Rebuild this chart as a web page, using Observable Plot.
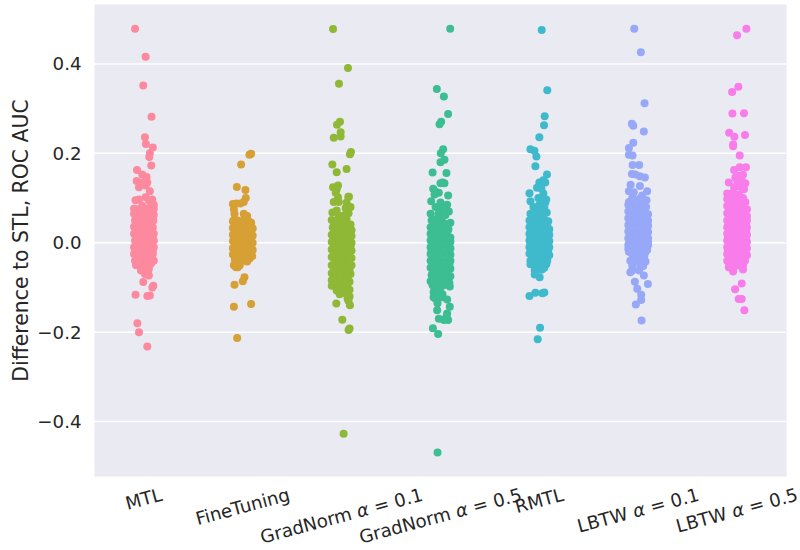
<!DOCTYPE html>
<html><head><meta charset="utf-8">
<style>html,body{margin:0;padding:0;background:#fff}svg{display:block}</style>
<script src="https://cdn.jsdelivr.net/npm/d3@7"></script>
<script src="https://cdn.jsdelivr.net/npm/@observablehq/plot@0.6"></script>
</head><body><div id="chart"></div>
<script>
const categories = ["MTL","FineTuning","GradNorm α = 0.1","GradNorm α = 0.5","RMTL","LBTW α = 0.1","LBTW α = 0.5"];
const colors = ["#fd899e","#d6a035","#8eb836","#3cbd92","#3fbacc","#96a8f7","#f97ceb"];
const yTicks = [-0.4,-0.2,0,0.2,0.4];
const jitterLimit = 0.1;

// each point: [horizontal jitter in category widths, difference]
const mtl = [[-.09,.479],[.017,.416],[-.007,.352],[.077,.282],[.01,.236],[.02,.221],[.09,.213],[.06,.2],[.054,.192],[.074,.173],[-.07,.163],
[-.017,.153],[.027,.147],[-.074,.138],[-.017,.135],[.034,.135],[-.05,.124],[.017,.128],[.06,.115],[-.085,.095],[-.05,.097],[.084,.097],[.017,.102],[.05,.095],[-.1,.076],[.1,.076],[-.017,.083],[.05,.078],[.1,.085],
[-.1,.065],[-.03,.066],[.04,.064],[.1,.062],[-.09,.05],[-.06,.052],[0,.05],[.06,.049],[.095,.05],[-.11,.036],[-.04,.035],[.03,.037],[.09,.034],[-.1,.02],[-.06,.021],[.01,.02],[.05,.019],[.11,.02],[-.09,.005],[-.02,.006],[.04,.004],[.1,.005],[-.11,-.01],[-.05,-.01],[.02,-.009],[.07,-.011],[.11,-.01],[-.1,-.025],[-.03,-.024],[.03,-.026],[.09,-.025],[-.09,-.04],[-.05,-.04],[.01,-.039],[.06,-.041],[.1,-.04],[-.08,-.05],[-.02,-.052],[.04,-.05],[-.03,-.062],[.03,-.061],[.05,-.058],
[.05,-.073],[-.007,-.088],[.095,-.096],[.085,-.1],[-.085,-.116],[.035,-.119],[.06,-.118],[-.067,-.18],[-.05,-.2],[.034,-.232],
[-.06,.075],[-.02,.072],[.03,.074],[.07,.07],[-.075,.058],[-.025,.057],[.025,.058],[.075,.056],[-.075,.043],[-.025,.042],[.025,.044],[.07,.042],[-.075,.028],[-.025,.027],[.03,.028],[.075,.027],[-.07,.013],[-.035,.012],[.025,.013],[.08,.012],[-.075,-.002],[-.04,-.003],[.01,-.002],[.07,-.003],[-.08,-.017],[-.02,-.018],[.04,-.017],[.09,-.018],[-.07,-.032],[-.01,-.032],[.05,-.033],[.08,-.032],[-.03,-.045],[.02,-.046],[.07,-.047],[0,-.055],[.01,-.07],[.04,-.066]];

const fineTuning = [[.084,.199],[.067,.197],[-.017,.175],[-.06,.125],[.027,.118],[.03,.1],[.01,.091],[-.1,.087],[-.064,.088],[-.024,.088],[-.084,.065],[.01,.065],[.044,.06],[-.09,.075],[.02,.06],[-.085,.052],
[-.1,.048],[-.05,.05],[.01,.05],[.06,.048],[.085,.045],[-.1,.033],[-.06,.034],[0,.032],[.05,.035],[.1,.032],[-.11,.018],[-.04,.02],[.03,.018],[.08,.019],[.11,.016],[-.1,.004],[-.06,.003],[0,.004],[.05,.005],[.11,0],[-.11,-.012],[-.03,-.01],[.03,-.012],[.08,-.011],[.1,-.016],[-.1,-.026],[-.05,-.025],[.01,-.028],[.06,-.027],[.095,-.03],[-.08,-.038],[-.03,-.04],[.03,-.04],[.044,-.042],[-.09,-.05],[-.07,-.055],[-.05,-.055],[-.03,-.05],
[.017,-.077],[0,-.086],[-.084,-.094],[.084,-.137],[-.09,-.143],[-.057,-.213],
[-.07,.042],[-.02,.041],[.035,.042],[.075,.04],[-.08,.026],[-.025,.026],[.025,.027],[.07,.026],[-.08,.011],[-.03,.012],[.02,.011],[.075,.011],[-.075,-.003],[-.03,-.004],[.025,-.003],[.08,-.004],[-.08,-.018],[-.01,-.019],[.05,-.019],[.08,-.02],[-.07,-.032],[-.02,-.033],[.03,-.033],[.07,-.035]];

const gradNorm01 = [[-.087,.478],[.064,.391],[-.027,.356],[-.017,.271],[-.047,.264],[-.01,.247],[-.01,.238],[-.08,.235],[.094,.203],[.084,.198],[-.094,.175],[.05,.165],[-.05,.158],[-.037,.128],[-.087,.124],[-.05,.12],[-.06,.112],[-.037,.102],[.074,.103],[.067,.103],[.05,.09],[-.08,.091],[-.03,.091],[.09,.08],[.04,.078],[-.094,.068],[-.05,.072],[.07,.066],[-.1,.051],[-.03,.056],[.09,.041],[.05,.052],
[-.05,.045],[.01,.05],[-.09,.034],[-.03,.032],[.03,.035],[.1,.028],[-.11,.018],[-.06,.017],[0,.018],[.06,.02],[.11,.015],[-.1,.002],[-.03,0],[.04,.003],[.1,0],[-.11,-.015],[-.06,-.014],[.01,-.016],[.07,-.015],[.11,-.018],[-.1,-.032],[-.03,-.03],[.04,-.033],[.1,-.034],[-.11,-.05],[-.05,-.05],[.01,-.048],[.07,-.05],[.11,-.05],[-.11,-.068],[-.03,-.066],[.04,-.068],[.09,-.07],[-.11,-.084],[-.06,-.084],[0,-.083],[.06,-.085],[.08,-.087],[-.1,-.096],[-.05,-.1],[.02,-.098],[.06,-.1],[.08,-.105],[-.05,-.107],[.05,-.115],[.08,-.12],[.06,-.125],
[-.054,-.136],[.084,-.14],[.07,-.13],[.007,-.172],[.08,-.192],[.07,-.195],[.02,-.427],
[-.02,.06],[.03,.062],[-.075,.042],[-.02,.041],[.05,.042],[.075,.03],[-.075,.025],[-.02,.025],[.03,.024],[.085,.025],[-.085,.01],[-.03,.009],[.02,.01],[.07,.008],[-.07,-.006],[-.01,-.007],[.05,-.006],[.09,-.008],[-.08,-.022],[-.03,-.023],[.02,-.023],[.07,-.022],[-.07,-.038],[-.01,-.04],[.07,-.04],[-.08,-.058],[-.02,-.058],[.03,-.058],[.08,-.06],[-.07,-.075],[-.01,-.075],[.06,-.076],[-.07,-.09],[-.02,-.092],[.04,-.093],[0,-.107],[.03,-.11],[-.02,-.115]];

const gradNorm05 = [[.098,.479],[-.037,.344],[.034,.327],[.077,.288],[.007,.271],[-.01,.265],[.027,.209],[.003,.2],[.04,.186],[0,.18],[-.08,.157],[.06,.156],[0,.133],[.04,.133],[.02,.135],[-.074,.121],[-.05,.114],[-.017,.112],[-.06,.108],[.077,.106],[-.094,.093],[0,.09],[.067,.085],[-.05,.08],[.084,.07],[-.01,.075],[.04,.078],[-.1,.065],[-.02,.065],[.05,.062],
[-.09,.05],[-.05,.052],[.01,.05],[.1,.045],[-.11,.035],[-.04,.034],[.04,.036],[.08,.03],[-.1,.02],[-.06,.02],[0,.02],[.06,.018],[.1,.012],[-.12,.005],[-.04,.004],[.03,.005],[.12,.003],[-.12,-.01],[-.06,-.01],[.01,-.008],[.08,-.011],[.12,-.012],[-.12,-.025],[-.03,-.026],[.05,-.024],[.11,-.027],[-.1,-.04],[-.05,-.042],[.01,-.04],[.07,-.04],[.12,-.04],[-.11,-.056],[-.03,-.056],[.04,-.056],[.11,-.058],[-.09,-.072],[-.05,-.071],[.01,-.07],[.06,-.072],[.1,-.075],[-.11,-.086],[-.03,-.086],[.04,-.088],[.09,-.09],[.094,-.098],[-.08,-.095],[0,-.1],[-.07,-.11],[-.03,-.11],[.02,-.115],[-.07,-.122],[-.05,-.125],[.017,-.122],[.067,-.127],[-.03,-.135],[.094,-.143],[-.034,-.151],[.067,-.158],[-.017,-.17],[.034,-.173],[.077,-.173],[.06,-.165],[-.077,-.191],[-.024,-.204],[-.03,-.469],
[.03,.06],[-.07,.042],[-.01,.043],[.06,.042],[-.08,.027],[-.02,.027],[.02,.028],[.07,.026],[-.09,.012],[-.02,.012],[.03,.013],[.08,.01],[-.08,-.003],[-.02,-.002],[.06,-.002],[.09,-.003],[-.09,-.018],[-.03,-.017],[.04,-.017],[.09,-.018],[-.08,-.033],[-.01,-.033],[.08,-.033],[-.08,-.048],[-.02,-.049],[.04,-.048],[.09,-.049],[-.07,-.064],[-.01,-.063],[.07,-.064],[-.08,-.079],[-.02,-.079],[.03,-.079],[.08,-.08],[-.04,-.095],[.03,-.095],[-.02,-.105]];

const rmtl = [[.024,.476],[.08,.341],[.054,.283],[.047,.263],[0,.236],[-.09,.209],[-.05,.206],[-.03,.193],[-.04,.171],[.077,.153],[0,.135],[.06,.135],[.04,.14],[-.024,.123],[.02,.122],[-.1,.111],[.04,.11],[.07,.097],[-.09,.093],[.06,.09],[-.01,.1],[.03,.1],[0,.085],
[-.06,.08],[-.02,.078],[.05,.08],[-.09,.065],[-.04,.066],[.02,.065],[.075,.068],[-.11,.05],[-.05,.05],[.01,.052],[.06,.05],[.09,.048],[-.1,.035],[-.06,.036],[0,.034],[.05,.035],[.1,.03],[-.12,.02],[-.04,.02],[.03,.018],[.11,.018],[-.12,.005],[-.06,.006],[0,.004],[.06,.005],[.12,.004],[-.11,-.01],[-.03,-.01],[.04,-.011],[.12,-.01],[-.1,-.024],[-.05,-.026],[.01,-.025],[.07,-.024],[.11,-.028],[-.09,-.04],[-.03,-.04],[.03,-.04],[.08,-.04],
[-.09,-.048],[.07,-.048],[.027,-.06],[-.03,-.052],[-.047,-.062],[-.047,-.071],[.003,-.077],[.05,-.056],[-.1,-.119],[-.04,-.112],[.03,-.113],[.05,-.111],[.007,-.19],[-.017,-.216],
[-.07,.058],[-.02,.058],[.04,.058],[-.08,.043],[-.02,.043],[.03,.043],[.08,.04],[-.08,.028],[-.02,.027],[.03,.027],[.08,.025],[-.09,.012],[-.01,.012],[.06,.012],[.09,.011],[-.09,-.003],[-.03,-.003],[.03,-.003],[.09,-.003],[-.08,-.018],[-.01,-.018],[.07,-.017],[.09,-.018],[-.07,-.033],[-.01,-.033],[.05,-.033],[-.06,-.047],[0,-.047],[.04,-.047],[.01,-.06]];

const lbtw01 = [[-.04,.479],[.027,.426],[.064,.312],[-.064,.266],[-.05,.262],[.057,.249],[-.05,.224],[-.094,.212],[-.094,.197],[-.057,.195],[-.057,.174],[.01,.174],[-.064,.154],[-.03,.153],[.017,.149],[.067,.146],[-.077,.13],[.017,.127],[-.094,.115],[.09,.115],[-.045,.113],[.04,.106],[-.094,.091],[.084,.095],[-.06,.1],[.01,.098],
[-.1,.085],[-.04,.085],[.03,.084],[.08,.08],[-.11,.07],[-.06,.07],[0,.072],[.06,.068],[.1,.064],[-.11,.055],[-.03,.056],[.04,.054],[.11,.05],[-.12,.04],[-.06,.04],[.01,.038],[.07,.04],[.12,.038],[-.1,.025],[-.03,.024],[.04,.026],[.12,.024],[-.12,.01],[-.06,.011],[.01,.009],[.07,.01],[.13,.01],[-.13,-.005],[-.03,-.005],[.04,-.006],[.12,-.005],[-.12,-.014],[-.06,-.016],[.02,-.015],[.09,-.016],[-.094,-.02],[-.05,-.03],[0,-.028],[.06,-.03],
[-.08,-.04],[-.03,-.04],[.074,-.042],[.06,-.035],[-.06,-.052],[.02,-.05],[.05,-.052],[-.06,-.062],[-.08,-.066],[.01,-.062],[.057,-.073],[-.034,-.087],[.098,-.092],[-.01,-.103],[.03,-.116],[.03,-.128],[-.024,-.138],[.034,-.174],
[-.02,.078],[.05,.077],[-.08,.062],[-.02,.063],[.03,.063],[.08,.06],[-.08,.047],[-.03,.047],[.02,.047],[.08,.047],[-.09,.032],[-.03,.032],[.03,.032],[.09,.032],[-.08,.017],[-.02,.017],[.04,.018],[.09,.018],[-.09,.002],[-.01,.002],[.07,.002],[.1,.002],[-.08,-.01],[-.02,-.009],[.05,-.01],[.09,-.008],[-.07,-.023],[-.02,-.022],[.03,-.022],[.07,-.022],[-.02,-.035],[.03,-.038]];

const lbtw05 = [[.094,.479],[0,.464],[.013,.349],[-.05,.337],[-.047,.289],[.07,.29],[-.08,.246],[-.027,.237],[.08,.241],[-.04,.22],[-.04,.216],[.027,.195],[-.03,.163],[.027,.169],[.09,.169],[.06,.152],[.017,.15],[-.017,.146],[.04,.146],[-.084,.135],[.084,.133],[0,.14],[.05,.138],[-.03,.125],[.03,.125],[.07,.12],[-.1,.11],[-.04,.113],[.02,.108],[.06,.1],
[-.11,.098],[-.07,.095],[.084,.091],[-.02,.09],[-.11,.082],[-.05,.08],[.01,.082],[.06,.08],[.11,.075],[-.12,.066],[-.03,.066],[.04,.065],[.1,.06],[-.11,.05],[-.06,.05],[.01,.05],[.07,.052],[.12,.05],[-.12,.035],[-.03,.034],[.04,.035],[.12,.034],[-.11,.02],[-.06,.02],[.01,.018],[.07,.02],[.12,.018],[-.12,.005],[-.03,.004],[.04,.005],[.11,.002],[-.11,-.01],[-.06,-.01],[.01,-.009],[.07,-.01],[.12,-.012],[-.12,-.025],[-.03,-.025],[.04,-.024],[.11,-.028],[-.1,-.04],[-.05,-.04],[.01,-.04],[.08,-.04],
[-.084,-.055],[-.02,-.052],[.04,-.052],[-.04,-.064],[.06,-.06],[.047,-.091],[-.02,-.104],[.017,-.126],[.047,-.126],[.074,-.151],
[-.08,.09],[.03,.095],[-.03,.1],[-.08,.073],[-.02,.073],[.03,.073],[.08,.07],[-.08,.058],[-.02,.058],[.04,.058],[.08,.057],[-.08,.043],[-.02,.042],[.04,.043],[.09,.043],[-.08,.027],[-.02,.027],[.03,.027],[.09,.027],[-.09,.012],[-.02,.012],[.04,.012],[.09,.01],[-.08,-.002],[-.01,-.002],[.07,-.002],[-.09,-.018],[-.02,-.017],[.03,-.017],[.08,-.018],[-.07,-.033],[-.01,-.032],[.07,-.033],[-.06,-.048],[.01,-.048],[.06,-.05]];

const series = [mtl,fineTuning,gradNorm01,gradNorm05,rmtl,lbtw01,lbtw05];
const points = series.flatMap((s,i)=>s.map(([j,v])=>({pos:i+Math.max(-jitterLimit,Math.min(jitterLimit,j)),v,cat:categories[i]})));

const FONT = "DejaVu Sans";
const tickSize = 18.2;
const ctx = document.createElement("canvas").getContext("2d");
ctx.font = `${tickSize}px "${FONT}"`;
const rot = 15*Math.PI/180;
const drop = s => 8 + (ctx.measureText(s).width*Math.sin(rot) + tickSize*1.16*Math.cos(rot))/2;

const plot = Plot.plot({
  width:800,height:550,
  marginLeft:94,marginRight:14,marginTop:4,marginBottom:74,
  style:{fontFamily:FONT,background:"#fff",color:"#262626"},
  x:{domain:[-.5,6.5],axis:null},
  y:{domain:[-.5228,.533],axis:null},
  color:{domain:categories,range:colors},
  marks:[
    Plot.frame({fill:"#EAEAF2",stroke:"none"}),
    Plot.ruleY(yTicks,{stroke:"#fff",strokeWidth:1.5}),
    Plot.dot(points,{x:"pos",y:"v",fill:"cat",r:4,stroke:"none"}),
    Plot.axisY(yTicks,{tickSize:0,tickPadding:13,fontSize:tickSize,label:null,fill:"#262626",dy:0.5}),
    Plot.text(["Difference to STL, ROC AUC"],{frameAnchor:"left",dx:-73,rotate:-90,fontSize:20.4,fill:"#262626",textAnchor:"middle"}),
    ...categories.map((c,i)=>Plot.text([c],{x:()=>i,frameAnchor:"bottom",dy:drop(c),rotate:-15,fontSize:tickSize,fill:"#262626",textAnchor:"middle",lineAnchor:"middle"}))
  ]
});
document.getElementById("chart").appendChild(plot);
d3.select(plot).selectAll("text").each(function(){
  const t = this.textContent;
  if(!t.includes("α")) return;
  const [a,b] = t.split("α");
  const sel = d3.select(this);
  const target = this.querySelector("tspan") ? d3.select(this.querySelector("tspan")) : sel;
  target.text(null);
  target.append("tspan").text(a);
  target.append("tspan").attr("font-style","italic").text("α");
  target.append("tspan").text(b);
});
</script></body></html>
